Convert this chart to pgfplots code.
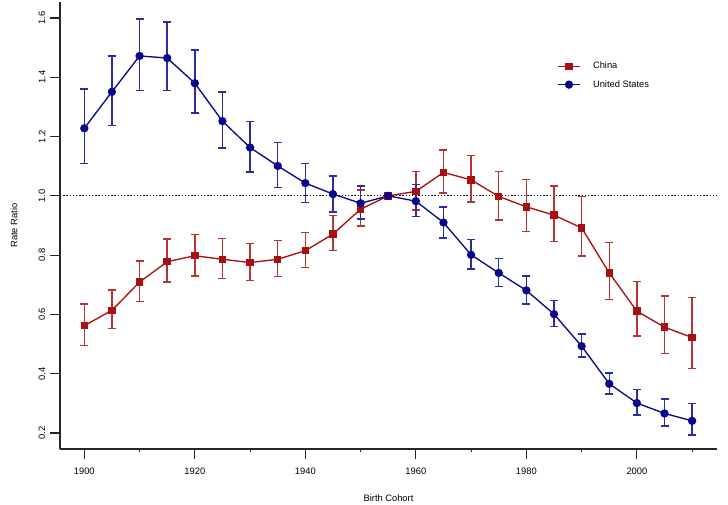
\documentclass[border=0pt]{standalone}
\usepackage{pgfplots}
\pgfplotsset{compat=1.18}
\usepackage{pgfplotstable}
\usepackage{fontspec}
\setmainfont{Liberation Sans}

\definecolor{chinared}{RGB}{168,16,16}
\definecolor{usblue}{RGB}{8,8,140}

% cohort, rate ratio, upper and lower distance to the CI limits
\pgfplotstableread{
x    y     ep    em
1900 0.562 0.073 0.066
1905 0.614 0.068 0.062
1910 0.709 0.072 0.065
1915 0.778 0.076 0.068
1920 0.798 0.072 0.068
1925 0.786 0.070 0.065
1930 0.775 0.065 0.061
1935 0.786 0.063 0.058
1940 0.815 0.061 0.057
1945 0.871 0.062 0.056
1950 0.955 0.065 0.057
1955 1.000 0.000 0.000
1960 1.015 0.067 0.062
1965 1.079 0.076 0.070
1970 1.054 0.082 0.074
1975 0.998 0.084 0.080
1980 0.963 0.092 0.084
1985 0.935 0.098 0.089
1990 0.892 0.106 0.095
1995 0.740 0.103 0.090
2000 0.611 0.100 0.083
2005 0.557 0.105 0.088
2010 0.522 0.136 0.105
}\china

\pgfplotstableread{
x    y     ep    em
1900 1.228 0.132 0.118
1905 1.351 0.121 0.114
1910 1.472 0.125 0.116
1915 1.465 0.121 0.109
1920 1.380 0.112 0.101
1925 1.252 0.099 0.091
1930 1.163 0.087 0.082
1935 1.101 0.079 0.073
1940 1.043 0.067 0.066
1945 1.006 0.061 0.061
1950 0.975 0.058 0.053
1955 1.000 0.000 0.000
1960 0.982 0.056 0.052
1965 0.910 0.052 0.052
1970 0.801 0.051 0.047
1975 0.740 0.049 0.046
1980 0.681 0.048 0.046
1985 0.601 0.046 0.042
1990 0.493 0.041 0.037
1995 0.366 0.037 0.034
2000 0.301 0.045 0.040
2005 0.266 0.048 0.042
2010 0.241 0.059 0.047
}\usa

\begin{document}
\begin{tikzpicture}
\begin{axis}[
    scale only axis,
    width=492.75pt, height=335.25pt,
    xmin=1895.6, xmax=2014.5,
    ymin=0.146, ymax=1.654,
    axis x line*=bottom, axis y line*=left,
    axis line style={-, line width=0.9pt, black!85},
    tick style={line width=0.8pt, black!85},
    tick align=outside,
    major tick length=7.5pt, minor tick length=2.5pt,
    xtick={1900,1920,1940,1960,1980,2000},
    minor xtick={1910,1930,1950,1970,1990,2010},
    ytick={0.2,0.4,0.6,0.8,1.0,1.2,1.4,1.6},
    /pgf/number format/assume math mode=true,
    xticklabel style={/pgf/number format/set thousands separator={}, font=\fontsize{7}{8}\selectfont, yshift=-3.5pt},
    yticklabel style={/pgf/number format/.cd, fixed, fixed zerofill, precision=1, /tikz/.cd,
        rotate=90, anchor=south, font=\fontsize{7}{8}\selectfont},
    xlabel={Birth Cohort},
    ylabel={Rate Ratio},
    xlabel style={at={(axis description cs:0.5,0)}, anchor=center, yshift=-36.5pt, font=\fontsize{7}{8}\selectfont},
    ylabel style={at={(axis description cs:0,0.5)}, anchor=center, rotate=0, yshift=34.5pt, font=\fontsize{7}{8}\selectfont},
    legend style={at={(axis description cs:0.756,0.872)}, anchor=north west, draw=none, fill=none,
        font=\fontsize{7}{8}\selectfont, inner sep=0pt, row sep=3pt,
        /tikz/every odd column/.append style={column sep=7pt}},
    legend cell align=left,
    clip=false,
]
\addplot[black, line width=0.9pt, dash pattern=on 1pt off 1.4pt, forget plot]
    coordinates {(1895.6,1) (2014.5,1)};

\addplot[chinared, line width=1pt, mark=square*, mark size=2.3pt,
    error bars/.cd, y dir=both, y explicit,
    error bar style={line width=1.1pt, chinared!85},
    error mark options={rotate=90, mark size=3pt, line width=1.1pt, chinared!85}]
    table[x=x, y=y, y error plus=ep, y error minus=em] {\china};
\addlegendentry{China}

\addplot[usblue, line width=1pt, mark=*, mark size=2.6pt,
    error bars/.cd, y dir=both, y explicit,
    error bar style={line width=1.1pt, usblue!85},
    error mark options={rotate=90, mark size=3pt, line width=1.1pt, usblue!85}]
    table[x=x, y=y, y error plus=ep, y error minus=em] {\usa};
\addlegendentry{United States}
\end{axis}
\pgfresetboundingbox
\path (-45pt,-41.25pt) rectangle (501pt,336.75pt);
\end{tikzpicture}
\end{document}
